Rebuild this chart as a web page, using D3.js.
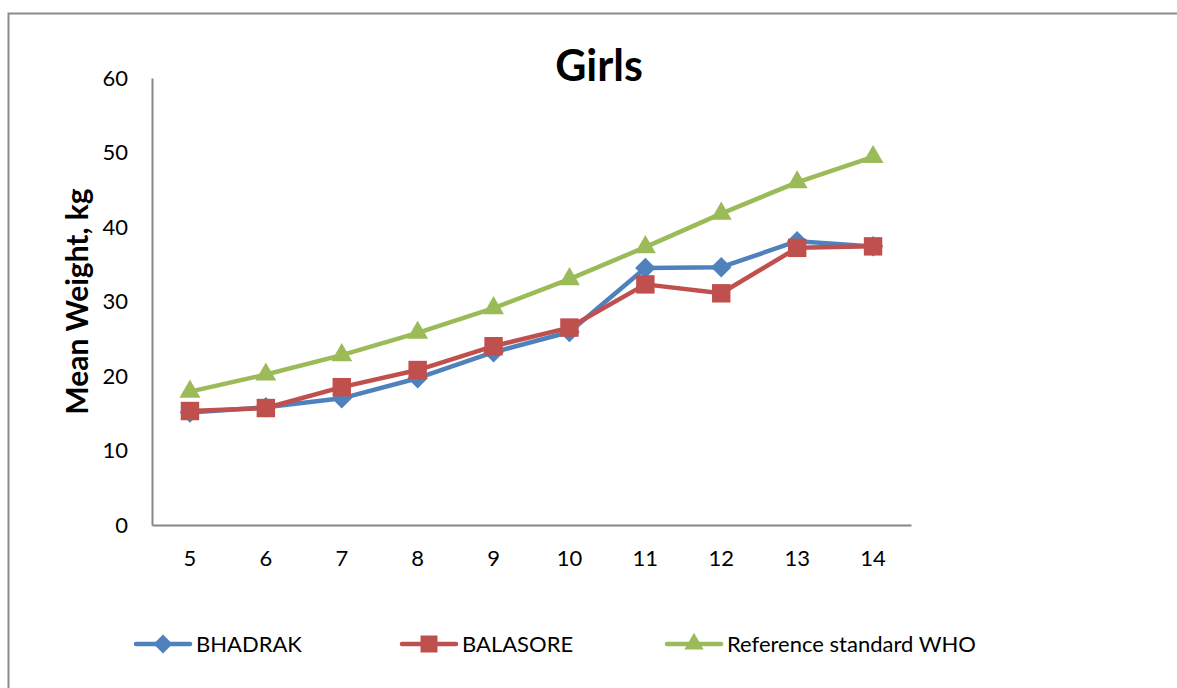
<!DOCTYPE html>
<html>
<head>
<meta charset="utf-8">
<script src="https://cdn.jsdelivr.net/npm/d3@7/dist/d3.min.js"></script>
<style>
  html, body { margin: 0; padding: 0; background: #fff; }
  svg { display: block; }
  text { font-family: Lato, "Open Sans", sans-serif; fill: #000; }
</style>
</head>
<body>
<svg id="chart" width="1177" height="688"></svg>
<script>
// Mean weight (kg) of girls by age
const ages = [5, 6, 7, 8, 9, 10, 11, 12, 13, 14];
const bhadrak = [15.1, 15.8, 17.0, 19.7, 23.2, 25.9, 34.5, 34.6, 38.1, 37.4];
const balasore = [15.3, 15.7, 18.5, 20.8, 24.0, 26.5, 32.3, 31.1, 37.2, 37.4];
const whoRef = [17.9, 20.2, 22.8, 25.8, 29.1, 33.0, 37.3, 41.8, 46.0, 49.4];
const yTicks = [0, 10, 20, 30, 40, 50, 60];
const seriesNames = ["BHADRAK", "BALASORE", "Reference standard WHO"];

const series = [
  { name: seriesNames[0], values: bhadrak, color: "#4F81BD", symbol: "diamond" },
  { name: seriesNames[1], values: balasore, color: "#C0504D", symbol: "square" },
  { name: seriesNames[2], values: whoRef, color: "#9BBB59", symbol: "triangle" }
];

const svg = d3.select("#chart");

// chart frame
svg.append("rect")
  .attr("x", 8.5).attr("y", 13.5)
  .attr("width", 1200).attr("height", 700)
  .attr("fill", "none").attr("stroke", "#8c8c8c").attr("stroke-width", 2);

const plot = { left: 152, right: 911, top: 78, bottom: 525 };

const x = d3.scaleBand().domain(ages).range([plot.left, plot.right]).padding(0);
const y = d3.scaleLinear().domain([0, 60]).range([plot.bottom, plot.top]);
const cx = a => x(a) + x.bandwidth() / 2;

// y axis
const yAxis = svg.append("g")
  .attr("transform", `translate(${plot.left},0)`)
  .call(d3.axisLeft(y).tickValues(yTicks).tickSize(0).tickPadding(24));
yAxis.select(".domain").attr("stroke", "#868686").attr("stroke-width", 2);
yAxis.selectAll("text").attr("font-size", 22).attr("font-family", "Lato, sans-serif").attr("fill", "#000");

// x axis
const xAxis = svg.append("g")
  .attr("transform", `translate(0,${plot.bottom})`)
  .call(d3.axisBottom(x).tickSize(0).tickPadding(25));
xAxis.select(".domain").attr("stroke", "#868686").attr("stroke-width", 2);
xAxis.selectAll("text").attr("font-size", 22).attr("font-family", "Lato, sans-serif").attr("fill", "#000");

// title
svg.append("text")
  .attr("x", 599).attr("y", 81)
  .attr("text-anchor", "middle")
  .attr("font-size", 43).attr("font-weight", "bold")
  .text("Girls");

// y axis title
svg.append("text")
  .attr("transform", `translate(88,${(plot.top + plot.bottom) / 2}) rotate(-90)`)
  .attr("text-anchor", "middle")
  .attr("font-size", 30).attr("font-weight", "bold")
  .text("Mean Weight, kg");

// marker shapes: the diamond is a square turned 45 degrees
const symbolType = {
  diamond: d3.symbolSquare,
  square: d3.symbolSquare,
  triangle: d3.symbolTriangle
};
const symbolRotate = { diamond: 45, square: 0, triangle: 0 };
const symbolSize = { diamond: 210, square: 340, triangle: 190 };

const line = d3.line().x((d, i) => cx(ages[i])).y(d => y(d));

series.forEach(s => {
  const g = svg.append("g");
  g.append("path")
    .attr("d", line(s.values))
    .attr("fill", "none")
    .attr("stroke", s.color)
    .attr("stroke-width", 4.5)
    .attr("stroke-linejoin", "round");
  g.selectAll("path.marker")
    .data(s.values)
    .join("path")
    .attr("class", "marker")
    .attr("transform", (d, i) => `translate(${cx(ages[i])},${y(d)}) rotate(${symbolRotate[s.symbol]})`)
    .attr("d", d3.symbol().type(symbolType[s.symbol]).size(symbolSize[s.symbol]))
    .attr("fill", s.color);
});

// legend
const legendX = [136, 402, 667];
const legendY = 644;
series.forEach((s, i) => {
  const g = svg.append("g").attr("transform", `translate(${legendX[i]},${legendY})`);
  g.append("line")
    .attr("x1", 0).attr("x2", 54).attr("y1", 0).attr("y2", 0)
    .attr("stroke", s.color).attr("stroke-width", 4.5).attr("stroke-linecap", "round");
  g.append("path")
    .attr("transform", `translate(27,0) rotate(${symbolRotate[s.symbol]})`)
    .attr("d", d3.symbol().type(symbolType[s.symbol]).size(symbolSize[s.symbol] * 0.85))
    .attr("fill", s.color);
  g.append("text")
    .attr("x", 60).attr("y", 0)
    .attr("dy", "0.35em")
    .attr("font-size", 22)
    .text(s.name);
});
</script>
</body>
</html>
